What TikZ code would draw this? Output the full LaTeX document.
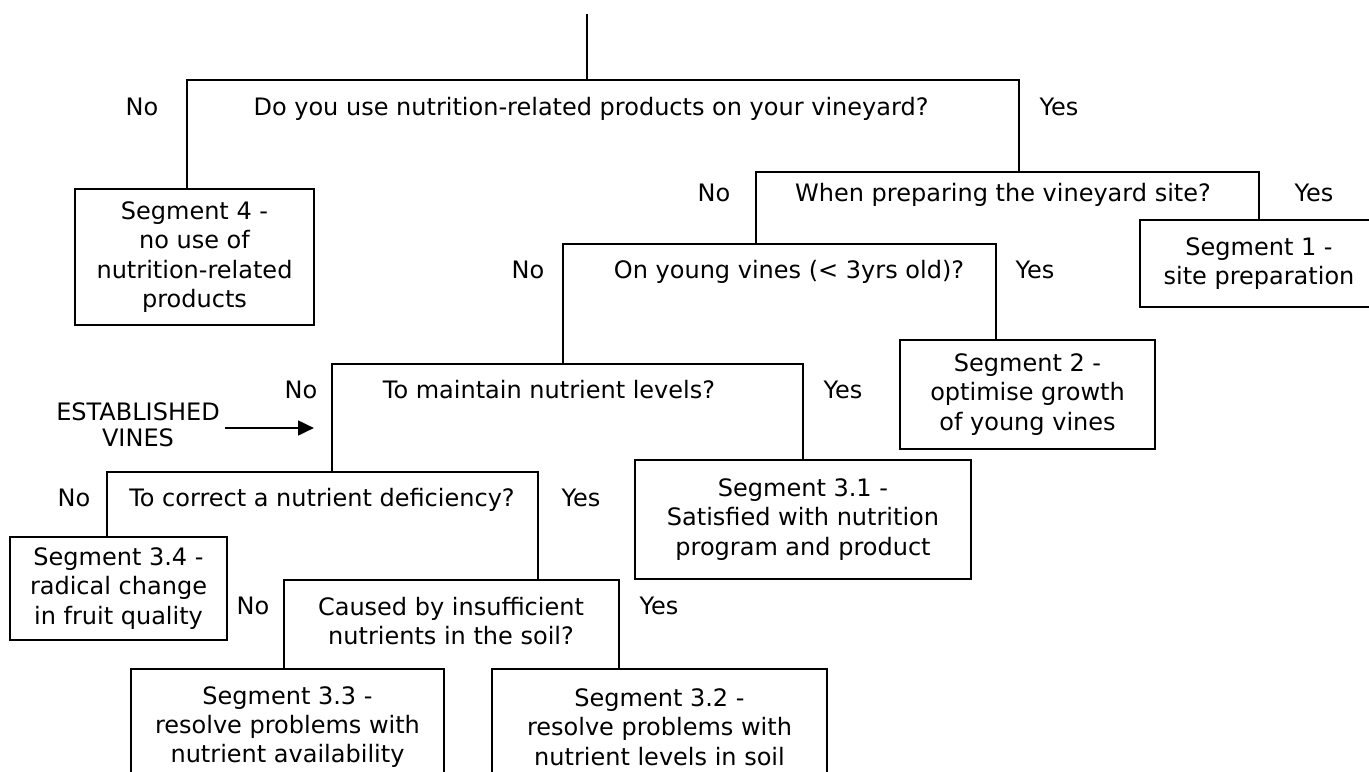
\documentclass[tikz,border=0pt]{standalone}
\usepackage{fontspec}
\setmainfont{DejaVu Sans}
\usetikzlibrary{arrows.meta}

\begin{document}
\begin{tikzpicture}[x=0.75pt, y=-0.75pt, line width=1pt,
    font=\fontsize{18pt}{22pt}\selectfont,
    txt/.style={inner sep=0pt, text height=12pt, text depth=0pt},
    seg/.style 2 args={rectangle, draw, line width=1.2pt, align=center, inner sep=2pt, minimum width=#1, minimum height=#2}]
    \useasboundingbox (0,0) rectangle (1369,771);
    \node[txt] (q1) at (591,107) {Do you use nutrition-related products on your vineyard?};
    \node[txt] (q1no) at (142,107) {No};
    \node[txt] (q1yes) at (1059,107) {Yes};
    \node[txt] (q2) at (1003,193) {When preparing the vineyard site?};
    \node[txt] (q2no) at (714,193) {No};
    \node[txt] (q2yes) at (1314,193) {Yes};
    \node[txt] (q3) at (789,270) {On young vines (< 3yrs old)?};
    \node[txt] (q3no) at (528,270) {No};
    \node[txt] (q3yes) at (1035,270) {Yes};
    \node[txt] (q4) at (549,390) {To maintain nutrient levels?};
    \node[txt] (q4no) at (301,390) {No};
    \node[txt] (q4yes) at (843,390) {Yes};
    \node[txt] (q5) at (322,498) {To correct a nutrient deficiency?};
    \node[txt] (q5no) at (74,498) {No};
    \node[txt] (q5yes) at (581,498) {Yes};
    \node[align=center, inner sep=0pt] (q6) at (451,621) {Caused by insufficient\\nutrients in the soil?};
    \node[txt] (q6no) at (253,606) {No};
    \node[txt] (q6yes) at (659,606) {Yes};
    \node[seg={179pt}{102pt}] (seg4) at (194.5,257) {Segment 4 -\\no use of\\nutrition-related\\products};
    \node[seg={178.5pt}{65pt}] (seg1) at (1259,263.5) {Segment 1 -\\site preparation};
    \node[seg={191pt}{82pt}] (seg2) at (1027.5,394.5) {Segment 2 -\\optimise growth\\of young vines};
    \node[seg={252pt}{89pt}] (seg31) at (803,519.5) {Segment 3.1 -\\Satisfied with nutrition\\program and product};
    \node[seg={163pt}{77pt}] (seg34) at (118.5,588.5) {Segment 3.4 -\\radical change\\in fruit quality};
    \node[seg={235pt}{87pt}] (seg33) at (287.5,727) {Segment 3.3 -\\resolve problems with\\nutrient availability};
    \node[seg={251pt}{87pt}] (seg32) at (659.5,727) {Segment 3.2 -\\resolve problems with\\nutrient levels in soil};
    \node[align=center, font=\fontsize{18pt}{19.5pt}\selectfont] (est) at (138,425) {ESTABLISHED\\VINES};
    \coordinate (top) at (587,14);
    \coordinate (tip) at (314,428);
    \coordinate (q1l) at (187,80);
    \coordinate (q1r) at (1019,80);
    \coordinate (q2l) at (756,172);
    \coordinate (q2r) at (1259,172);
    \coordinate (q3l) at (563,244);
    \coordinate (q3r) at (996,244);
    \coordinate (q4l) at (332,364);
    \coordinate (q4r) at (803,364);
    \coordinate (q5l) at (107,472);
    \coordinate (q5r) at (538,472);
    \coordinate (q6l) at (284,580);
    \coordinate (q6r) at (619,580);
    \draw (top) -- (top |- q1l);
    \draw (q1l |- seg4.north) -- (q1l) -- (q1r) -- (q1r |- q2l);
    \draw (q2l |- q3l) -- (q2l) -- (q2r) -- (q2r |- seg1.north);
    \draw (q3l |- q4l) -- (q3l) -- (q3r) -- (q3r |- seg2.north);
    \draw (q4l |- q5l) -- (q4l) -- (q4r) -- (q4r |- seg31.north);
    \draw (q5l |- seg34.north) -- (q5l) -- (q5r) -- (q5r |- q6l);
    \draw (q6l |- seg33.north) -- (q6l) -- (q6r) -- (q6r |- seg32.north);
    \draw[line width=2pt, -{Triangle[length=12pt, width=11pt]}] (tip -| est.east) -- (tip);
\end{tikzpicture}
\end{document}
